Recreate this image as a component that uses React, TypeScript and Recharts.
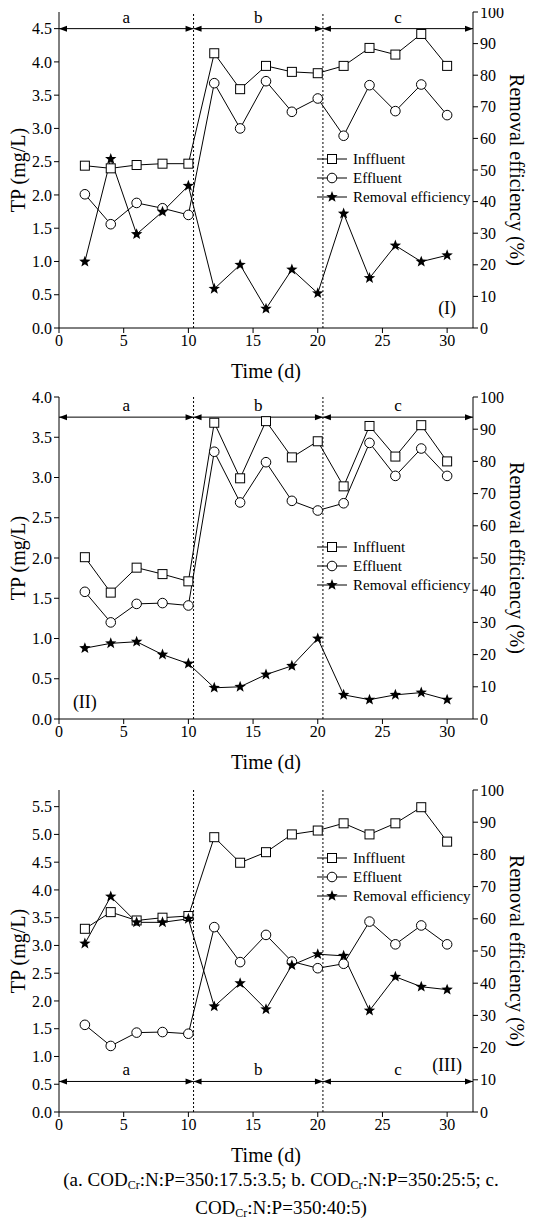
import React from 'react';
import { ComposedChart, Line, XAxis, YAxis, ReferenceLine, ReferenceDot } from 'recharts';

const days = [2, 4, 6, 8, 10, 12, 14, 16, 18, 20, 22, 24, 26, 28, 30];
const inf1 = [2.44, 2.40, 2.45, 2.47, 2.47, 4.13, 3.59, 3.94, 3.85, 3.83, 3.94, 4.21, 4.11, 4.42, 3.94];
const eff1 = [2.01, 1.56, 1.88, 1.80, 1.70, 3.68, 3.00, 3.71, 3.25, 3.45, 2.89, 3.65, 3.26, 3.66, 3.20];
const rem1 = [21, 53.5, 29.7, 36.8, 45, 12.4, 20, 6.1, 18.5, 11, 36.2, 15.8, 26.1, 21, 23];
const inf2 = [2.01, 1.57, 1.88, 1.80, 1.71, 3.68, 2.99, 3.70, 3.25, 3.45, 2.89, 3.64, 3.26, 3.65, 3.20];
const eff2 = [1.58, 1.20, 1.43, 1.44, 1.41, 3.32, 2.69, 3.19, 2.71, 2.59, 2.68, 3.43, 3.02, 3.36, 3.02];
const rem2 = [22, 23.5, 24, 20, 17.2, 9.7, 10, 13.8, 16.5, 25, 7.5, 6, 7.5, 8.2, 6];
const inf3 = [3.30, 3.60, 3.45, 3.50, 3.53, 4.95, 4.49, 4.68, 5.00, 5.07, 5.20, 5.00, 5.20, 5.49, 4.87];
const eff3 = [1.57, 1.19, 1.43, 1.44, 1.41, 3.33, 2.70, 3.19, 2.71, 2.59, 2.67, 3.43, 3.02, 3.36, 3.02];
const rem3 = [52.3, 66.9, 58.9, 58.9, 60, 32.8, 40, 31.9, 45.6, 49, 48.5, 31.5, 42, 38.9, 38];

const xTicks = [0, 5, 10, 15, 20, 25, 30];
const rightTicks = [0, 10, 20, 30, 40, 50, 60, 70, 80, 90, 100];
const phaseBounds = [0, 10.4, 20.4, 32];
const phaseNames = ['a', 'b', 'c'];

const FONT = "'Liberation Serif', 'DejaVu Serif', serif";
const TICK = { fontSize: 16, fontFamily: FONT, fill: '#000', style: { fontFamily: FONT } };

const Square = (p: any) => p.cx == null ? null : <rect key={p.key} x={p.cx - 4.5} y={p.cy - 4.5} width={9} height={9} fill="#fff" stroke="#000" strokeWidth={1} />;
const Circle = (p: any) => p.cx == null ? null : <circle key={p.key} cx={p.cx} cy={p.cy} r={4.8} fill="#fff" stroke="#000" strokeWidth={1} />;
const starPts = (cx: number, cy: number, R: number) => {
  const pts: string[] = [];
  for (let i = 0; i < 10; i++) {
    const r = i % 2 === 0 ? R : R * 0.42;
    const a = -Math.PI / 2 + (i * Math.PI) / 5;
    pts.push(`${cx + r * Math.cos(a)},${cy + r * Math.sin(a)}`);
  }
  return pts.join(' ');
};
const Star = (p: any) => p.cx == null ? null : <polygon key={p.key} points={starPts(p.cx, p.cy, 6)} fill="#000" />;

const ArrowSeg = (p: any) => {
  const { x1, y1, x2, y2 } = p;
  return (
    <g>
      <line x1={x1} y1={y1} x2={x2} y2={y2} stroke="#000" strokeWidth={1} />
      <polygon points={`${x1},${y1} ${x1 + 8},${y1 - 3} ${x1 + 8},${y1 + 3}`} fill="#000" />
      <polygon points={`${x2},${y2} ${x2 - 8},${y2 - 3} ${x2 - 8},${y2 + 3}`} fill="#000" />
    </g>
  );
};

const LegendBox = ({ left, top }: { left: number; top: number }) => {
  const items = [
    { name: 'Inffluent', m: (cx: number, cy: number) => <rect x={cx - 4.5} y={cy - 4.5} width={9} height={9} fill="#fff" stroke="#000" /> },
    { name: 'Effluent', m: (cx: number, cy: number) => <circle cx={cx} cy={cy} r={4.8} fill="#fff" stroke="#000" /> },
    { name: 'Removal efficiency', m: (cx: number, cy: number) => <polygon points={starPts(cx, cy, 6)} fill="#000" /> },
  ];
  return (
    <svg width={160} height={60} style={{ position: 'absolute', left, top, overflow: 'visible' }}>
      {items.map((it, i) => {
        const cy = 8 + i * 19;
        return (
          <g key={it.name}>
            <line x1={0} y1={cy} x2={30} y2={cy} stroke="#000" />
            {it.m(15, cy)}
            <text x={36} y={cy + 5} fontSize={15} style={{ fontFamily: FONT }} fill="#000">{it.name}</text>
          </g>
        );
      })}
    </svg>
  );
};

function Panel({ inf, eff, rem, yMax, yTicks, arrowY, height, top, xh, tag, tagX, tagY, legendTop }: any) {
  const data = days.map((d, i) => ({ d, inf: inf[i], eff: eff[i], rem: rem[i] }));
  const lbl = { fontSize: 20, fontFamily: FONT, fill: '#000', style: { fontFamily: FONT } };
  return (
    <div style={{ position: 'relative', width: 546, height }}>
      <ComposedChart width={546} height={height} data={data} margin={{ top, right: 0, bottom: 0, left: 0 }} style={{ fontFamily: FONT, overflow: 'visible' }}>
        <XAxis xAxisId="b" dataKey="d" type="number" domain={[0, 32]} ticks={xTicks} height={xh}
          tick={TICK} stroke="#000" tickSize={5}
          label={{ value: 'Time (d)', position: 'insideBottom', offset: xh - 50, ...lbl }} />
        <XAxis xAxisId="t" orientation="top" type="number" dataKey="d" domain={[0, 32]} height={0} tick={false} tickLine={false} stroke="#000" />
        <YAxis yAxisId="l" type="number" domain={[0, yMax]} ticks={yTicks} width={51} interval={0}
          tickFormatter={(v: number) => v.toFixed(1)}
          tick={TICK} stroke="#000" tickSize={5}
          label={{ value: 'TP (mg/L)', angle: -90, position: 'center', dx: -16, ...lbl }} />
        <YAxis yAxisId="r" orientation="right" type="number" domain={[0, 100]} ticks={rightTicks} width={81} interval={0}
          tick={TICK} stroke="#000" tickSize={5}
          label={{ value: 'Removal efficiency (%)', angle: 90, position: 'center', dx: 4, ...lbl }} />
        <ReferenceLine xAxisId="b" yAxisId="l" x={phaseBounds[1]} stroke="#000" strokeDasharray="2 2" />
        <ReferenceLine xAxisId="b" yAxisId="l" x={phaseBounds[2]} stroke="#000" strokeDasharray="2 2" />
        {phaseNames.map((n, i) => (
          <ReferenceLine key={n} xAxisId="b" yAxisId="l"
            segment={[{ x: phaseBounds[i], y: arrowY }, { x: phaseBounds[i + 1], y: arrowY }]}
            shape={ArrowSeg}
            label={{ value: n, position: 'top', offset: 6, ...lbl, fontSize: 17 }} />
        ))}
        <ReferenceDot xAxisId="b" yAxisId="l" x={tagX} y={tagY} r={0}
          label={{ value: tag, position: 'center', ...lbl, fontSize: 18 }} />
        <Line xAxisId="b" yAxisId="l" dataKey="inf" stroke="#000" strokeWidth={1} dot={Square} isAnimationActive={false} />
        <Line xAxisId="b" yAxisId="l" dataKey="eff" stroke="#000" strokeWidth={1} dot={Circle} isAnimationActive={false} />
        <Line xAxisId="b" yAxisId="r" dataKey="rem" stroke="#000" strokeWidth={1} dot={Star} isAnimationActive={false} />
      </ComposedChart>
      <LegendBox left={309} top={legendTop} />
    </div>
  );
}

const subStyle: React.CSSProperties = { fontSize: 12, verticalAlign: 'baseline', position: 'relative', top: 3 };

export default function App() {
  return (
    <div style={{ width: 546, fontFamily: FONT, marginTop: -6 }}>
      <Panel inf={inf1} eff={eff1} rem={rem1} yMax={4.75} yTicks={[0, 0.5, 1, 1.5, 2, 2.5, 3, 3.5, 4, 4.5]}
        arrowY={4.5} height={388} top={10} xh={62} tag="(I)" tagX={30} tagY={0.3} legendTop={149} />
      <Panel inf={inf2} eff={eff2} rem={rem2} yMax={4} yTicks={[0, 0.5, 1, 1.5, 2, 2.5, 3, 3.5, 4]}
        arrowY={3.75} height={393} top={7} xh={64} tag="(II)" tagX={2} tagY={0.22} legendTop={149} />
      <Panel inf={inf3} eff={eff3} rem={rem3} yMax={5.8} yTicks={[0, 0.5, 1, 1.5, 2, 2.5, 3, 3.5, 4, 4.5, 5, 5.5]}
        arrowY={0.55} height={392} top={7} xh={63} tag="(III)" tagX={30} tagY={0.85} legendTop={67} />
      <div style={{ textAlign: 'center', fontSize: 19, lineHeight: '25px', width: 546, marginTop: -8, position: 'relative' }}>
        (a. COD<sub style={subStyle}>Cr</sub>:N:P=350:17.5:3.5; b. COD<sub style={subStyle}>Cr</sub>:N:P=350:25:5; c.<br />
        COD<sub style={subStyle}>Cr</sub>:N:P=350:40:5)
      </div>
    </div>
  );
}
